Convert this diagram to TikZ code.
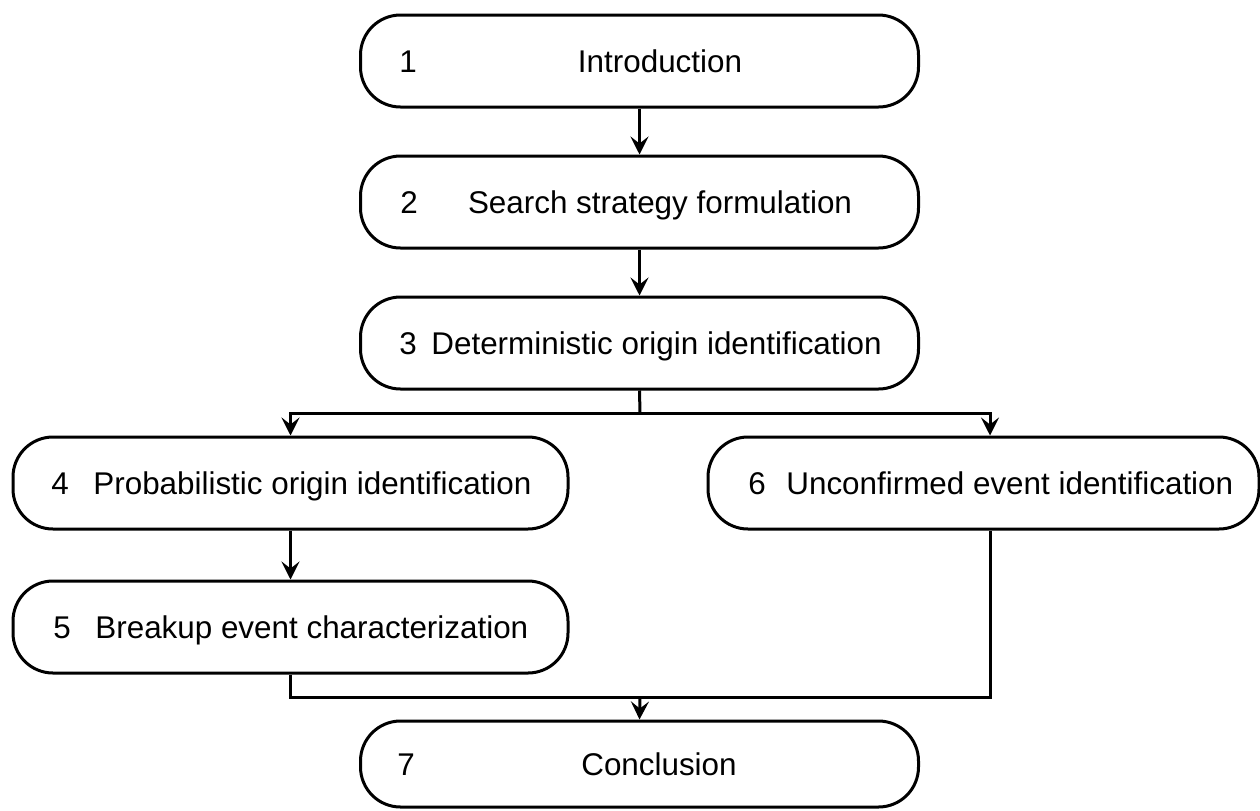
\documentclass[tikz,border=0pt]{standalone}
\usepackage{fontspec}
\setmainfont{Liberation Sans}
\usetikzlibrary{arrows.meta}
\begin{document}
\begin{tikzpicture}[x=0.5pt,y=-0.5pt,
  stagebox/.style={draw=black, line width=1.5pt, rounded corners=20pt, minimum width=279pt, minimum height=46pt, inner sep=0pt},
  lbl/.style={inner sep=0pt, font=\fontsize{15.7}{18}\selectfont},
  arr/.style={line width=1.5pt, -{Stealth[length=9pt, width=9pt, inset=3.5pt]}},
  ln/.style={line width=1.5pt}]
\useasboundingbox (0,0) rectangle (1260,810);
% boxes
\node[stagebox] (b1) at (639.5,61) {};
\node[stagebox] (b2) at (639.5,202) {};
\node[stagebox] (b3) at (639.5,343) {};
\node[stagebox, minimum width=277.5pt] (b4) at (290.5,483) {};
\node[stagebox, minimum width=277.5pt] (b5) at (290.5,627) {};
\node[stagebox, minimum width=275.5pt] (b6) at (983.5,483) {};
\node[stagebox, minimum height=43pt] (b7) at (639.5,764) {};
% labels
\node[lbl, anchor=base] (n1) at (408,72) {1};
\node[lbl, anchor=base] (t1) at (660,72) {Introduction};
\node[lbl, anchor=base] (n2) at (409,213) {2};
\node[lbl, anchor=base] (t2) at (660,213) {Search strategy formulation};
\node[lbl, anchor=base] (n3) at (408,354) {3};
\node[lbl, anchor=base west] (t3) at (431,354) {Deterministic origin identification};
\node[lbl, anchor=base] (n4) at (60,494) {4};
\node[lbl, anchor=base west] (t4) at (93,494) {Probabilistic origin identification};
\node[lbl, anchor=base] (n5) at (62,638) {5};
\node[lbl, anchor=base west] (t5) at (95,638) {Breakup event characterization};
\node[lbl, anchor=base] (n6) at (757,494) {6};
\node[lbl, anchor=base west] (t6) at (786,494) {Unconfirmed event identification};
\node[lbl, anchor=base] (n7) at (406,775) {7};
\node[lbl, anchor=base] (t7) at (659,775) {Conclusion};
% junctions
\coordinate (j1) at (640,413);
\coordinate (j2) at (640,697);
% connectors
\draw[arr] (b1.south) -- (b2.north);
\draw[arr] (b2.south) -- (b3.north);
\draw[ln] (b3.south) -- (j1);
\draw[arr] (j1) -| (b4.north);
\draw[arr] (j1) -| ([xshift=3.25pt]b6.north);
\draw[arr] (b4.south) -- (b5.north);
\draw[ln] (b5.south) |- (j2) -| ([xshift=3.25pt]b6.south);
\draw[arr] (j2) -- (b7.north);
\end{tikzpicture}
\end{document}
